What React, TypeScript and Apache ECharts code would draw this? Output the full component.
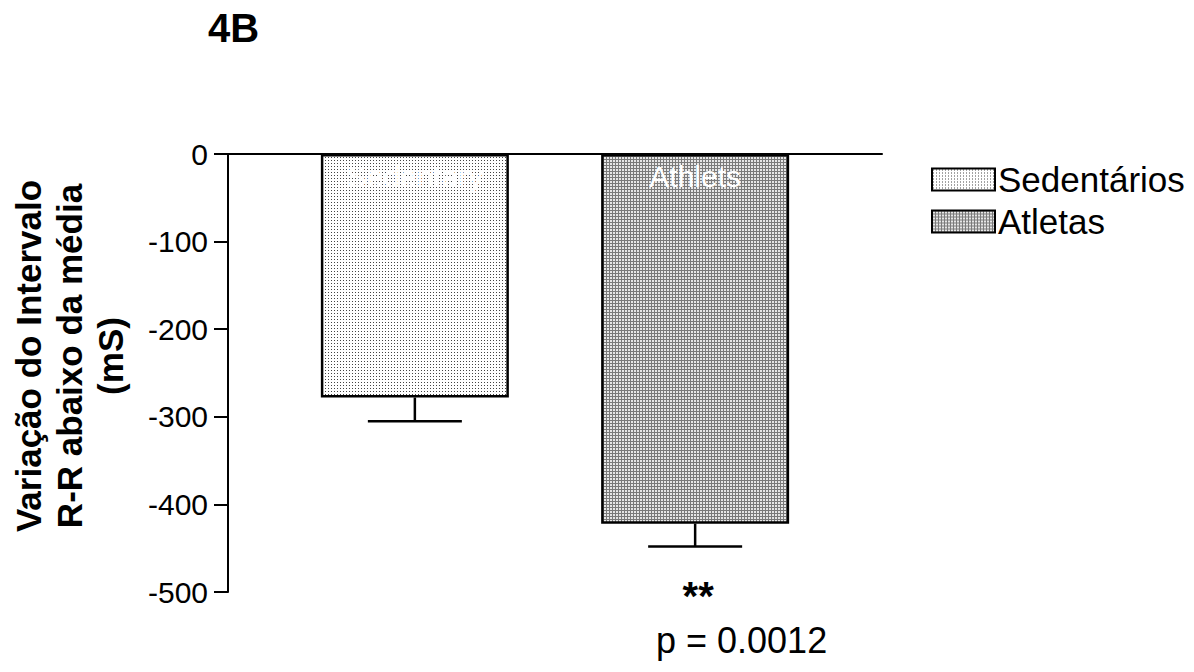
import React, { useEffect, useRef } from "react";
import * as echarts from "echarts";

// Group labels drawn inside the bars, legend names, and the measured values
const barLabels = ["Sedentary", "Athlets"];
const legendNames = ["Sedentários", "Atletas"];
const meanValues = [-278, -422];
const semValues = [27, 26];
const significance = ["", "**"];
const yTicks = [0, -100, -200, -300, -400, -500];
const pValueText = "p = 0.0012";

const FONT = "'Liberation Sans', Arial, Helvetica, sans-serif";

function makeTile(draw: (ctx: CanvasRenderingContext2D) => void, size: number) {
  const c = document.createElement("canvas");
  c.width = size;
  c.height = size;
  const ctx = c.getContext("2d")!;
  draw(ctx);
  return c;
}

// Fine black dots on white
function dotPattern() {
  const tile = makeTile((ctx) => {
    ctx.fillStyle = "#ffffff";
    ctx.fillRect(0, 0, 3, 3);
    ctx.fillStyle = "#444444";
    ctx.fillRect(1, 1, 1, 1);
  }, 3);
  return { image: tile, repeat: "repeat", imageWidth: 3, imageHeight: 3 } as any;
}

// Dense grey grid
function gridPattern() {
  const tile = makeTile((ctx) => {
    ctx.fillStyle = "#e6e6e6";
    ctx.fillRect(0, 0, 3, 3);
    ctx.fillStyle = "#7a7a7a";
    ctx.fillRect(0, 0, 3, 1);
    ctx.fillRect(0, 0, 1, 3);
  }, 3);
  return { image: tile, repeat: "repeat", imageWidth: 3, imageHeight: 3 } as any;
}

export default function App() {
  const ref = useRef<HTMLDivElement>(null);

  useEffect(() => {
    if (!ref.current) return;
    const chart = echarts.init(ref.current, undefined, { renderer: "svg" });

    // Bars sit at x = 2, 5 on a 0..7 value axis
    const xPos = barLabels.map((_, i) => 2 + 3 * i);
    const patterns = [dotPattern(), gridPattern()];

    const barSeries = legendNames.map((name, i) => ({
      name,
      type: "bar",
      barWidth: 188,
      barGap: "-100%",
      data: [[xPos[i], meanValues[i]]],
      itemStyle: {
        color: patterns[i],
        borderColor: "#000",
        borderWidth: 2.5,
      },
      label: {
        show: true,
        position: "insideTop",
        distance: 7,
        formatter: () => barLabels[i],
        color: "#ffffff",
        fontFamily: FONT,
        fontSize: 30,
      },
      z: 2,
    }));

    const errorData = meanValues.map((v, i) => [xPos[i], v, v - semValues[i], i]);

    const option: any = {
      animation: false,
      backgroundColor: "#ffffff",
      textStyle: { fontFamily: FONT },
      title: {
        text: "4B",
        left: 203,
        top: 3,
        textStyle: { fontFamily: FONT, fontSize: 40, fontWeight: "bold", color: "#000" },
      },
      legend: {
        orient: "vertical",
        left: 926,
        top: 157,
        itemWidth: 63,
        itemHeight: 22,
        itemGap: 7,
        icon: "rect",
        data: legendNames,
        itemStyle: { borderColor: "#000", borderWidth: 2 },
        textStyle: { fontFamily: FONT, fontSize: 35, color: "#000", padding: [0, 0, 0, -2] },
      },
      grid: { left: 228, right: 312, top: 154, bottom: 80, outerBoundsMode: "none", containLabel: false },
      xAxis: {
        type: "value",
        min: 0,
        max: 7,
        position: "top",
        axisLine: { show: true, onZero: false, lineStyle: { color: "#000", width: 2 } },
        axisTick: { show: false },
        axisLabel: { show: false },
        splitLine: { show: false },
      },
      yAxis: {
        type: "value",
        min: yTicks[yTicks.length - 1],
        max: yTicks[0],
        interval: 100,
        name: "Variação do Intervalo\nR-R abaixo da média\n(mS)",
        nameLocation: "middle",
        nameRotate: 90,
        nameGap: 97,
        nameTextStyle: {
          fontFamily: FONT,
          fontSize: 35,
          fontWeight: "bold",
          color: "#000",
          lineHeight: 41,
          padding: [0, 0, 0, 34],
        },
        axisLine: { show: true, lineStyle: { color: "#000", width: 2 } },
        axisTick: { show: true, length: 14, lineStyle: { color: "#000", width: 2 } },
        axisLabel: { fontFamily: FONT, fontSize: 30, color: "#000", margin: 20 },
        splitLine: { show: false },
      },
      series: [
        ...barSeries,
        {
          type: "custom",
          name: "sem",
          z: 3,
          data: errorData,
          renderItem: (params: any, api: any) => {
            const x = api.value(0);
            const top = api.coord([x, api.value(1)]);
            const low = api.coord([x, api.value(2)]);
            const idx = api.value(3);
            const half = 47;
            const style = { stroke: "#000", lineWidth: 2.5 };
            const children: any[] = [
              { type: "line", shape: { x1: top[0], y1: top[1], x2: low[0], y2: low[1] }, style },
              { type: "line", shape: { x1: low[0] - half, y1: low[1], x2: low[0] + half, y2: low[1] }, style },
            ];
            if (significance[idx]) {
              children.push({
                type: "text",
                x: low[0] + 3,
                y: low[1] + 50,
                style: {
                  text: significance[idx],
                  fontFamily: FONT,
                  fontSize: 40,
                  fontWeight: "bold",
                  fill: "#000",
                  align: "center",
                  verticalAlign: "middle",
                },
              });
            }
            return { type: "group", children };
          },
        },
      ],
      graphic: [
        {
          type: "text",
          left: 656,
          top: 622,
          style: { text: pValueText, fontFamily: FONT, fontSize: 36, fill: "#000" },
        },
      ],
    };

    chart.setOption(option);
    return () => chart.dispose();
  }, []);

  return (
    <div
      ref={ref}
      style={{ position: "fixed", left: 0, top: 0, width: 1194, height: 672, background: "#fff" }}
    />
  );
}
